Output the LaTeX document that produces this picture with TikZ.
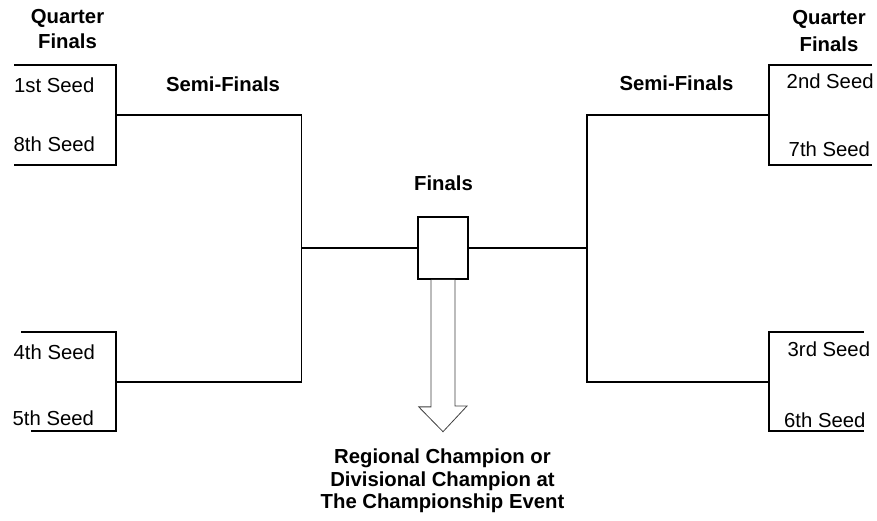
\documentclass[tikz,border=0pt]{standalone}
\usepackage{fontspec}
\setmainfont{Liberation Sans}
\begin{document}
\begin{tikzpicture}[x=1pt,y=-1pt,
  line/.style={line width=1.7pt, line cap=rect},
  hdr/.style={font=\fontsize{20.3}{23}\selectfont\bfseries, inner sep=0pt, anchor=base},
  seedl/.style={font=\fontsize{20.3}{23}\selectfont, inner sep=0pt, anchor=base west},
  finalbox/.style={draw, line width=1.7pt, minimum width=50.5pt, minimum height=62pt, inner sep=0pt},
  bigarrow/.style={draw=black!75, line width=0.8pt, fill=white, line join=miter}]
\useasboundingbox (0,0) rectangle (877,521);

% headers
\node[hdr] (qfl1) at (67.5,24) {Quarter};
\node[hdr] (qfl2) at (67.5,49) {Finals};
\node[hdr] (qfr1) at (829,25) {Quarter};
\node[hdr] (qfr2) at (829,51.5) {Finals};
\node[hdr] (sfl) at (223,92) {Semi-Finals};
\node[hdr] (sfr) at (676.5,91) {Semi-Finals};
\node[hdr] (fin) at (443.5,191) {Finals};
\node[hdr] (ch1) at (442.5,463) {Regional Champion or};
\node[hdr] (ch2) at (442.5,486) {Divisional Champion at};
\node[hdr] (ch3) at (442.5,508.5) {The Championship Event};

% seeds
\node[seedl] (s1) at (14,92.5) {1st Seed};
\node[seedl] (s8) at (13.5,152) {8th Seed};
\node[seedl] (s4) at (13.5,359) {4th Seed};
\node[seedl] (s5) at (12.5,425) {5th Seed};
\node[seedl] (s2) at (786.5,89) {2nd Seed};
\node[seedl] (s7) at (788.5,157) {7th Seed};
\node[seedl] (s3) at (787.5,356) {3rd Seed};
\node[seedl] (s6) at (784,427) {6th Seed};

% final box
\node[finalbox] (final) at (443,248) {};

% bracket coordinates
\coordinate (a1) at (15,65);   \coordinate (a2) at (116,65);
\coordinate (a3) at (15,165);  \coordinate (a4) at (116,165);
\coordinate (am) at (116,115);
\coordinate (b1) at (22,332);  \coordinate (b2) at (116,332);
\coordinate (b3) at (32,431);  \coordinate (b4) at (116,431);
\coordinate (bm) at (116,382);
\coordinate (lt) at (301.5,115); \coordinate (lb) at (301.5,382);
\coordinate (lmid) at (301.5,248);

\coordinate (c1) at (871,65);  \coordinate (c2) at (769,65);
\coordinate (c3) at (871,165); \coordinate (c4) at (769,165);
\coordinate (cm) at (769,115);
\coordinate (d1) at (863,332); \coordinate (d2) at (769,332);
\coordinate (d3) at (863,431); \coordinate (d4) at (769,431);
\coordinate (dm) at (769,382);
\coordinate (rt) at (586.7,115); \coordinate (rb) at (586.7,382);
\coordinate (rmid) at (586.7,248);

% left brackets
\draw[line] (a1) -- (a2) -- (a4) -- (a3);
\draw[line] (b1) -- (b2) -- (b4) -- (b3);
\draw[line] (am) -- (lt) -- (lb) -- (bm);
\draw[line] (lmid) -- (final.west);
% right brackets
\draw[line] (c1) -- (c2) -- (c4) -- (c3);
\draw[line] (d1) -- (d2) -- (d4) -- (d3);
\draw[line] (cm) -- (rt) -- (rb) -- (dm);
\draw[line] (rmid) -- (final.east);

% big hollow arrow
\coordinate (tip) at (443,431.7);
\draw[bigarrow] ([xshift=-12pt]final.south) -- ++(0,127) -- ++(-12.3,0) -- (tip)
  -- ++(24,-25.7) -- ++(-12,0) -- ([xshift=12pt]final.south);
\end{tikzpicture}
\end{document}
